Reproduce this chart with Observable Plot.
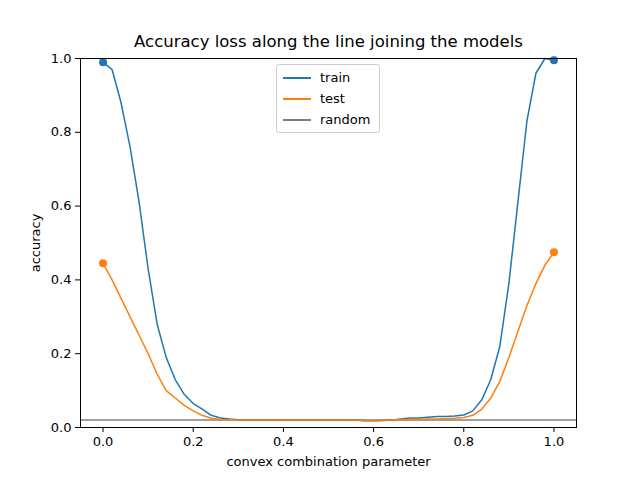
<!DOCTYPE html>
<html>
<head>
<meta charset="utf-8">
<script src="https://cdn.jsdelivr.net/npm/d3@7"></script>
<script src="https://cdn.jsdelivr.net/npm/@observablehq/plot@0.6"></script>
<style>
  body { margin: 0; background: #fff; font-family: "DejaVu Sans", sans-serif; }
  #chart { position: relative; width: 640px; height: 480px; }
  #legend { position: absolute; left: 276px; top: 64px; width: 102px; border: 1px solid #ccc; border-radius: 3px;
    background: #fff; font-size: 13px; padding: 2px 0; }
  #legend div { display: flex; align-items: center; height: 21px; }
  #legend span.sw { display: inline-block; width: 28px; height: 2px; margin: 0 9px 0 6px; }
</style>
</head>
<body>
<div id="chart"></div>
<script>
const xs = d3.range(51).map(i => i / 50);
const trainAcc = [0.99, 0.97, 0.88, 0.76, 0.61, 0.43, 0.28, 0.19, 0.13, 0.09, 0.065, 0.05, 0.033, 0.026, 0.023, 0.021,
  0.02, 0.02, 0.02, 0.02, 0.02, 0.02, 0.02, 0.02, 0.02, 0.02, 0.02, 0.02, 0.02, 0.018, 0.018, 0.019, 0.02, 0.023, 0.026,
  0.026, 0.028, 0.03, 0.03, 0.031, 0.034, 0.045, 0.075, 0.13, 0.22, 0.39, 0.61, 0.83, 0.96, 1.0, 0.995];
const testAcc = [0.445, 0.40, 0.35, 0.30, 0.25, 0.20, 0.145, 0.10, 0.08, 0.06, 0.045, 0.033, 0.025, 0.022, 0.021, 0.02,
  0.02, 0.02, 0.02, 0.02, 0.02, 0.02, 0.02, 0.02, 0.02, 0.02, 0.02, 0.02, 0.02, 0.018, 0.018, 0.019, 0.02, 0.022, 0.022,
  0.022, 0.023, 0.023, 0.024, 0.025, 0.027, 0.033, 0.05, 0.08, 0.125, 0.19, 0.26, 0.33, 0.39, 0.44, 0.475];
const randomAcc = 0.02;
const endpoints = [0, 1];

const train = xs.map((x, i) => ({x, y: trainAcc[i]}));
const test = xs.map((x, i) => ({x, y: testAcc[i]}));
const trainEnds = train.filter(d => endpoints.includes(d.x));
const testEnds = test.filter(d => endpoints.includes(d.x));

const blue = "#1f77b4", orange = "#ff7f0e", gray = "#7f7f7f";

const chart = Plot.plot({
  width: 640, height: 480,
  marginLeft: 80, marginRight: 64, marginTop: 58, marginBottom: 53,
  style: {fontFamily: "DejaVu Sans", fontSize: "13px", color: "#000"},
  x: {domain: [-0.05, 1.05]},
  y: {domain: [0, 1]},
  marks: [
    Plot.ruleY([randomAcc], {stroke: gray, strokeWidth: 1.5}),
    Plot.line(train, {x: "x", y: "y", stroke: blue, strokeWidth: 1.5}),
    Plot.line(test, {x: "x", y: "y", stroke: orange, strokeWidth: 1.5}),
    Plot.dot(trainEnds, {x: "x", y: "y", fill: blue, r: 4}),
    Plot.dot(testEnds, {x: "x", y: "y", fill: orange, r: 4}),
    Plot.axisX({ticks: [0, 0.2, 0.4, 0.6, 0.8, 1], tickFormat: ".1f", tickSize: 5, label: "convex combination parameter",
      labelAnchor: "center", labelArrow: "none", labelOffset: 38}),
    Plot.axisY({ticks: [0, 0.2, 0.4, 0.6, 0.8, 1], tickFormat: ".1f", tickSize: 5, label: "accuracy",
      labelAnchor: "center", labelArrow: "none", labelOffset: 50}),
    Plot.frame({stroke: "#000"}),
    Plot.text(["Accuracy loss along the line joining the models"], {frameAnchor: "top", dy: -12, fontSize: 16.5, lineAnchor: "bottom"})
  ]
});
document.getElementById("chart").append(chart);

const legendItems = [["train", blue], ["test", orange], ["random", gray]];
const lg = document.createElement("div");
lg.id = "legend";
lg.innerHTML = legendItems.map(([t, c]) => `<div><span class="sw" style="background:${c}"></span>${t}</div>`).join("");
document.getElementById("chart").append(lg);
</script>
</body>
</html>
